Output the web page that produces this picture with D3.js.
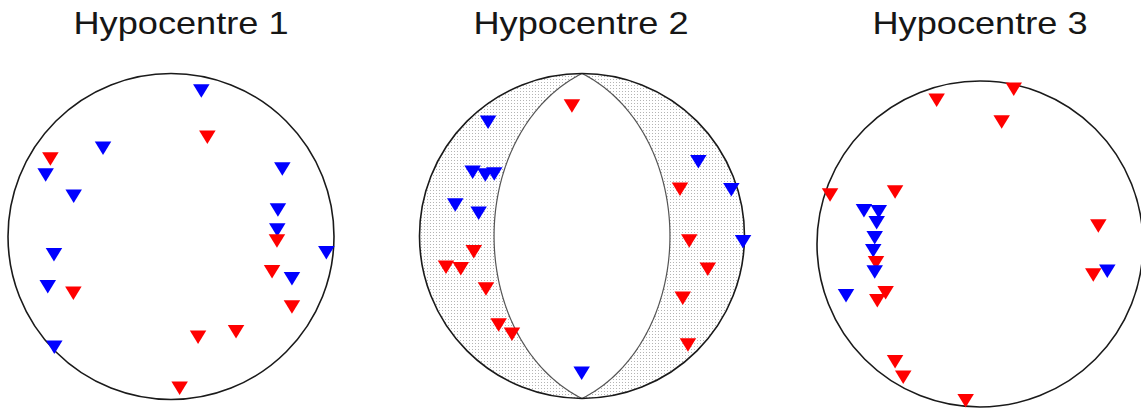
<!DOCTYPE html>
<html>
<head>
<meta charset="utf-8">
<script src="https://cdn.jsdelivr.net/npm/d3@7"></script>
<style>
  html, body { margin: 0; padding: 0; background: #fff; }
  svg { display: block; }
</style>
</head>
<body>
<svg id="chart" width="1141" height="412"></svg>
<script>
// Panel titles
const titles = ["Hypocentre 1", "Hypocentre 2", "Hypocentre 3"];

// First-motion polarities on the focal sphere (equal-area, lower hemisphere).
// Each station: [east, north, polarity] in unit-circle coordinates, listed in drawing order.
const stations1 = [
  [0.186, 0.893, "neg"], [-0.417, 0.541, "neg"], [-0.769, 0.377, "neg"], [-0.597, 0.247, "neg"],
  [0.683, 0.414, "neg"], [0.656, 0.163, "neg"], [0.652, 0.040, "neg"], [0.953, -0.099, "neg"],
  [-0.718, -0.112, "neg"], [0.742, -0.259, "neg"], [-0.756, -0.308, "neg"], [-0.716, -0.680, "neg"],
  [0.223, 0.609, "pos"], [-0.740, 0.475, "pos"], [0.650, -0.028, "pos"], [0.620, -0.216, "pos"],
  [-0.599, -0.348, "pos"], [0.742, -0.433, "pos"], [0.399, -0.584, "pos"], [0.166, -0.618, "pos"],
  [0.053, -0.931, "pos"]
];

const stations2 = [
  [-0.062, 0.800, "pos"], [-0.666, -0.097, "pos"], [-0.837, -0.193, "pos"], [-0.746, -0.201, "pos"],
  [-0.591, -0.326, "pos"], [-0.513, -0.548, "pos"], [-0.431, -0.605, "pos"], [0.603, 0.287, "pos"],
  [0.660, -0.031, "pos"], [0.774, -0.205, "pos"], [0.620, -0.383, "pos"], [0.652, -0.671, "pos"],
  [-0.578, 0.700, "neg"], [-0.673, 0.392, "neg"], [-0.540, 0.382, "neg"], [-0.595, 0.375, "neg"],
  [-0.780, 0.191, "neg"], [-0.636, 0.140, "neg"], [0.716, 0.457, "neg"], [0.919, 0.285, "neg"],
  [0.991, -0.035, "neg"], [-0.002, -0.845, "neg"]
];

const stations3 = [
  [-0.266, 0.882, "pos"], [0.207, 0.949, "pos"], [0.133, 0.748, "pos"], [-0.920, 0.301, "pos"],
  [-0.521, 0.319, "pos"], [0.726, 0.110, "pos"], [0.695, -0.190, "pos"], [-0.579, -0.299, "pos"],
  [-0.630, -0.348, "pos"], [-0.521, -0.722, "pos"], [-0.471, -0.818, "pos"], [-0.088, -0.961, "pos"],
  [-0.712, 0.204, "neg"], [-0.621, 0.198, "neg"], [-0.634, 0.131, "neg"], [-0.646, 0.039, "neg"],
  [-0.655, -0.041, "neg"], [-0.638, -0.115, "pos"], [-0.646, -0.172, "neg"], [-0.822, -0.317, "neg"],
  [0.781, -0.167, "neg"]
];

// Nodal planes of the solution for Hypocentre 2 (degrees)
const planeStrikes2 = [0, 180];
const planeDips2 = [45, 45];

const polarities = ["pos", "neg"];
const polarityColors = ["#ff0000", "#0000ff"];

// ---------------------------------------------------------------------------

const svg = d3.select("#chart");
const colour = d3.scaleOrdinal().domain(polarities).range(polarityColors);

const panels = [
  { title: titles[0], stations: stations1, cx: 171, cy: 236.5, r: 163, tx: 181, planes: [] },
  { title: titles[1], stations: stations2, cx: 582, cy: 236, r: 162.5, tx: 581,
    planes: planeStrikes2.map((s, i) => ({ strike: s, dip: planeDips2[i] })) },
  { title: titles[2], stations: stations3, cx: 980, cy: 244, r: 163, tx: 980, planes: [] }
];

// fine dot screen used for the shaded quadrants
const defs = svg.append("defs");
const pat = defs.append("pattern")
  .attr("id", "dots").attr("patternUnits", "userSpaceOnUse")
  .attr("width", 3).attr("height", 3);
pat.append("rect").attr("width", 3).attr("height", 3).attr("fill", "#fff");
pat.append("rect").attr("x", 1).attr("y", 1).attr("width", 1).attr("height", 1).attr("fill", "#b4b4b4");

const rad = Math.PI / 180;

// Equal-area projection of a great circle for a plane (strike, dip), returned as unit-circle points
function greatCircle(strike, dip) {
  const s = strike * rad, d = dip * rad, dd = (strike + 90) * rad;
  return d3.range(0, 180.5, 1).map(tDeg => {
    const t = tDeg * rad;
    const n = Math.cos(t) * Math.cos(s) + Math.sin(t) * Math.cos(dd) * Math.cos(d);
    const e = Math.cos(t) * Math.sin(s) + Math.sin(t) * Math.sin(dd) * Math.cos(d);
    const z = Math.sin(t) * Math.sin(d);
    const plunge = Math.asin(Math.max(-1, Math.min(1, z)));
    const trend = Math.atan2(e, n);
    const rho = Math.SQRT2 * Math.sin((Math.PI / 2 - plunge) / 2);
    return [rho * Math.sin(trend), rho * Math.cos(trend)];
  });
}

// downward-pointing triangle centred on its bounding box
const triW = 16.5, triH = 13.5;
function triangle(px, py) {
  return `M${px - triW / 2},${py - triH / 2}L${px + triW / 2},${py - triH / 2}L${px},${py + triH / 2}Z`;
}

panels.forEach(p => {
  const x = d3.scaleLinear().domain([-1, 1]).range([p.cx - p.r, p.cx + p.r]);
  const y = d3.scaleLinear().domain([-1, 1]).range([p.cy + p.r, p.cy - p.r]);
  const g = svg.append("g");

  // title
  g.append("text")
    .attr("x", p.tx).attr("y", 34)
    .attr("text-anchor", "middle")
    .attr("font-family", "Liberation Sans, Arial, sans-serif")
    .attr("font-size", 32)
    .attr("fill", "#161616")
    .attr("textLength", 215)
    .attr("lengthAdjust", "spacingAndGlyphs")
    .text(p.title);

  const line = d3.line().x(d => x(d[0])).y(d => y(d[1]));

  if (p.planes.length) {
    // outer circle plus the lens between the planes; even-odd fill shades the outer lunes
    const circlePath = d3.path();
    circlePath.moveTo(x(1), y(0));
    circlePath.arc(x(0), y(0), p.r, 0, 2 * Math.PI);
    circlePath.closePath();
    const arcs = p.planes.map(pl => greatCircle(pl.strike, pl.dip));
    const lens = arcs[0].concat(arcs[1]);
    g.append("path")
      .attr("d", circlePath.toString() + line(lens) + "Z")
      .attr("fill", "url(#dots)")
      .attr("fill-rule", "evenodd")
      .attr("stroke", "none");
    arcs.forEach(a => {
      g.append("path")
        .attr("d", line(a))
        .attr("fill", "none")
        .attr("stroke", "#555")
        .attr("stroke-width", 1.2);
    });
  }

  // primitive circle
  g.append("circle")
    .attr("cx", x(0)).attr("cy", y(0)).attr("r", p.r)
    .attr("fill", "none")
    .attr("stroke", "#1a1a1a")
    .attr("stroke-width", 1.6);

  // station polarities
  g.selectAll("path.st")
    .data(p.stations)
    .join("path")
    .attr("class", "st")
    .attr("d", d => triangle(x(d[0]), y(d[1])))
    .attr("fill", d => colour(d[2]));
});
</script>
</body>
</html>
